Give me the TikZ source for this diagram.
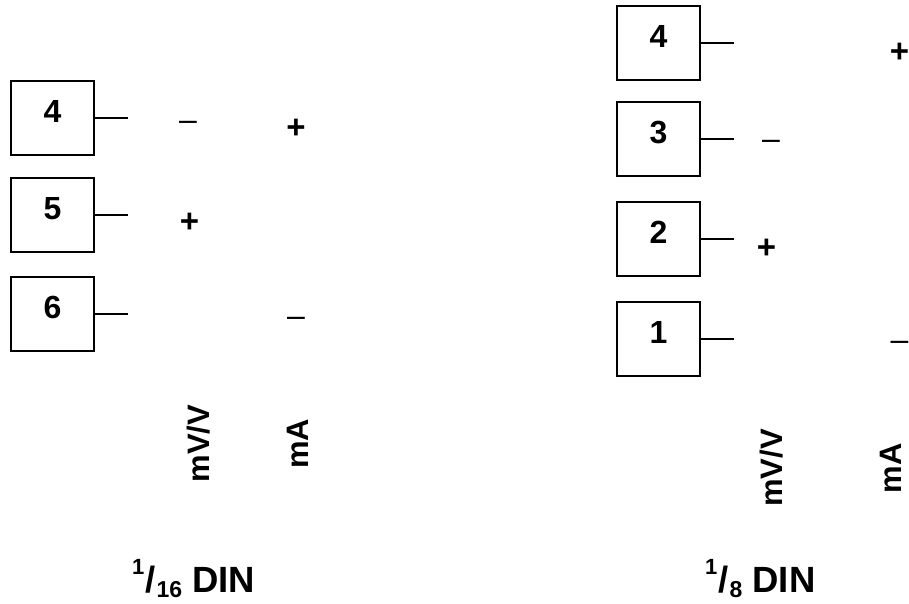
\documentclass[tikz,border=0pt]{standalone}
\usepackage{fontspec}
\setmainfont{Liberation Sans}
\tikzset{
    termbox/.style={draw, line width=1.6pt, minimum width=83pt, minimum height=74pt, inner sep=0pt, font=\fontsize{32}{32}\selectfont\bfseries, text height=30pt, text depth=22pt},
    lead/.style={line width=1.6pt},
    plus/.style={font=\fontsize{33}{33}\selectfont\bfseries, inner sep=0pt},
    minus/.style={font=\fontsize{32}{32}\selectfont, inner sep=0pt},
    unit/.style={font=\fontsize{31}{31}\selectfont\bfseries, rotate=90, anchor=base, inner sep=0pt},
    din/.style={font=\fontsize{36.5}{36.5}\selectfont\bfseries, anchor=base west, inner sep=0pt}
}
\newcommand{\dinfrac}[2]{\raisebox{18pt}{\fontsize{22}{22}\selectfont #1}\kern1pt/\kern1pt\raisebox{-5pt}{\fontsize{23}{23}\selectfont #2} DIN}

\begin{document}
\begin{tikzpicture}[x=1pt, y=-1pt]
        \useasboundingbox (0, 0) rectangle (909, 603);

        % 1/16 DIN
        \node [termbox] (smallfour) at (52.5, 118) {4};
        \node [termbox] (smallfive) at (52.5, 215) {5};
        \node [termbox] (smallsix) at (52.5, 314) {6};

        \coordinate (smallfourend) at (128, 118);
        \coordinate (smallfiveend) at (128, 215);
        \coordinate (smallsixend) at (128, 314);
        \draw [lead] (smallfour.east) -- (smallfourend);
        \draw [lead] (smallfive.east) -- (smallfiveend);
        \draw [lead] (smallsix.east) -- (smallsixend);

        \node [minus] (smallminusa) at (188, 126) {–};
        \node [plus] (smallplusa) at (296, 129) {+};
        \node [plus] (smallplusb) at (189.5, 223) {+};
        \node [minus] (smallminusb) at (296, 322) {–};

        \node [unit] (smallmv) at (209, 443.5) {mV/V};
        \node [unit] (smallma) at (308.5, 444) {mA};
        \node [din] (smallname) at (132, 592) {\dinfrac{1}{16}};

        % 1/8 DIN
        \node [termbox] (largefour) at (658.5, 43) {4};
        \node [termbox] (largethree) at (658.5, 139) {3};
        \node [termbox] (largetwo) at (658.5, 239) {2};
        \node [termbox] (largeone) at (658.5, 339) {1};

        \coordinate (largefourend) at (734, 43);
        \coordinate (largethreeend) at (734, 139);
        \coordinate (largetwoend) at (734, 239);
        \coordinate (largeoneend) at (734, 339);
        \draw [lead] (largefour.east) -- (largefourend);
        \draw [lead] (largethree.east) -- (largethreeend);
        \draw [lead] (largetwo.east) -- (largetwoend);
        \draw [lead] (largeone.east) -- (largeoneend);

        \node [plus] (largeplusa) at (899.5, 53) {+};
        \node [minus] (largeminusa) at (771, 145) {–};
        \node [plus] (largeplusb) at (766.5, 249) {+};
        \node [minus] (largeminusb) at (899.5, 346) {–};

        \node [unit] (largemv) at (782, 468) {mV/V};
        \node [unit] (largema) at (901.5, 468.5) {mA};
        \node [din] (largename) at (705, 592) {\dinfrac{1}{8}};
    \end{tikzpicture}
\end{document}
